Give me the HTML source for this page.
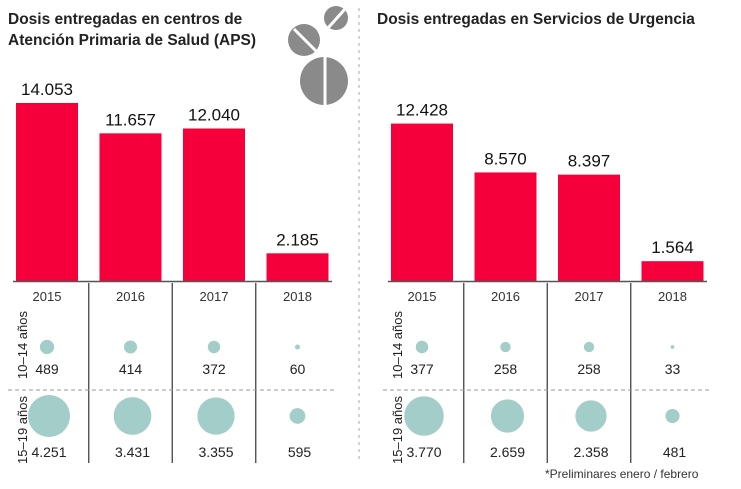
<!DOCTYPE html>
<html><head><meta charset="utf-8"><style>
body{margin:0;background:#fff;width:741px;height:484px;overflow:hidden;font-family:"Liberation Sans",sans-serif}
svg text{font-family:"Liberation Sans",sans-serif}
</style></head><body>
<svg id="c" width="741" height="484">
<text x="8" y="24" font-size="15.5" font-weight="bold" fill="#222">Dosis entregadas en centros de</text>
<text x="8" y="45" font-size="15.5" font-weight="bold" fill="#222">Atención Primaria de Salud (APS)</text>
<text x="377" y="24" font-size="15.5" font-weight="bold" fill="#222">Dosis entregadas en Servicios de Urgencia</text>
<g fill="#8a8a8a">
<circle cx="336" cy="18" r="12"/><line x1="328" y1="28" x2="345" y2="9" stroke="#fff" stroke-width="3"/>
<circle cx="304" cy="40" r="16"/><line x1="294" y1="29" x2="316" y2="51" stroke="#fff" stroke-width="3"/>
<circle cx="324" cy="81" r="24"/><line x1="325" y1="56" x2="325" y2="106" stroke="#fff" stroke-width="3"/>
</g>
<line x1="359" y1="8" x2="359" y2="462" stroke="#aaa" stroke-dasharray="3,4"/>
<text x="545" y="478" font-size="12" fill="#333">*Preliminares enero / febrero</text>
</svg>
<script>
const years=["2015","2016","2017","2018"];
const apsTotal=[14053,11657,12040,2185];
const apsYoung=[489,414,372,60];
const apsTeen=[4251,3431,3355,595];
const urgTotal=[12428,8570,8397,1564];
const urgYoung=[377,258,258,33];
const urgTeen=[3770,2659,2358,481];
const fmt=v=>String(v).replace(/\B(?=(\d{3})+(?!\d))/g,".");
const NS="http://www.w3.org/2000/svg",svg=document.getElementById("c");
const baseY=281,yS=178/14053;
const y=v=>baseY-v*yS;
const r=v=>0.322*Math.sqrt(v);
function mk(t,a,p){const e=document.createElementNS(NS,t);for(const k in a)e.setAttribute(k,a[k]);(p||svg).appendChild(e);return e;}
function panel(name,x0,totals,young,teen){
  const g=mk("g",{});
  
  
  const step=83.5,bw=62;
  const cx=i=>x0+31+i*step;
  totals.forEach((v,i)=>{
    const b=mk("rect",{x:cx(i)-bw/2,y:y(v),width:bw,height:baseY-y(v),fill:"#f5003a"},g);
    
    
    const t=mk("text",{x:cx(i),y:y(v)-8,"font-size":17,"text-anchor":"middle",fill:"#111"},g);t.textContent=fmt(v);
    
    
    const yl=mk("text",{x:cx(i),y:301,"font-size":13,"text-anchor":"middle",fill:"#333"},g);yl.textContent=years[i];
    
    
    const c1=mk("circle",{cx:cx(i),cy:347,r:r(young[i]),fill:"#a2cdc8"},g);
    
    
    const n1=mk("text",{x:cx(i),y:374,"font-size":14,"text-anchor":"middle",fill:"#222"},g);n1.textContent=fmt(young[i]);
    
    
    const c2=mk("circle",{cx:cx(i)+(i<3?2:0),cy:416,r:r(teen[i]),fill:"#a2cdc8"},g);
    
    
    const n2=mk("text",{x:cx(i)+2,y:457,"font-size":14,"text-anchor":"middle",fill:"#222"},g);n2.textContent=fmt(teen[i]);
    
    
    if(i>0){const d=mk("line",{x1:cx(i)-step/2,x2:cx(i)-step/2,y1:283,y2:463,stroke:"#444","stroke-width":1.3},g);
      
      }
  });
  const ax=mk("line",{x1:x0-3,x2:x0+316,y1:baseY+0.5,y2:baseY+0.5,stroke:"#555","stroke-width":1.5},g);
  
  
  const dl=mk("line",{x1:x0-8,x2:x0+319,y1:390,y2:390,stroke:"#999","stroke-dasharray":"4,3"},g);
  
  
  const l1=mk("text",{transform:`translate(${x0+11},345) rotate(-90)`,"font-size":13,"text-anchor":"middle",fill:"#222"},g);l1.textContent="10–14 años";
  
  
  const l2=mk("text",{transform:`translate(${x0+11},430) rotate(-90)`,"font-size":13,"text-anchor":"middle",fill:"#222"},g);l2.textContent="15–19 años";
  
  
}
panel("aps",16,apsTotal,apsYoung,apsTeen);
panel("urgencia",391,urgTotal,urgYoung,urgTeen);
</script>
</body></html>
